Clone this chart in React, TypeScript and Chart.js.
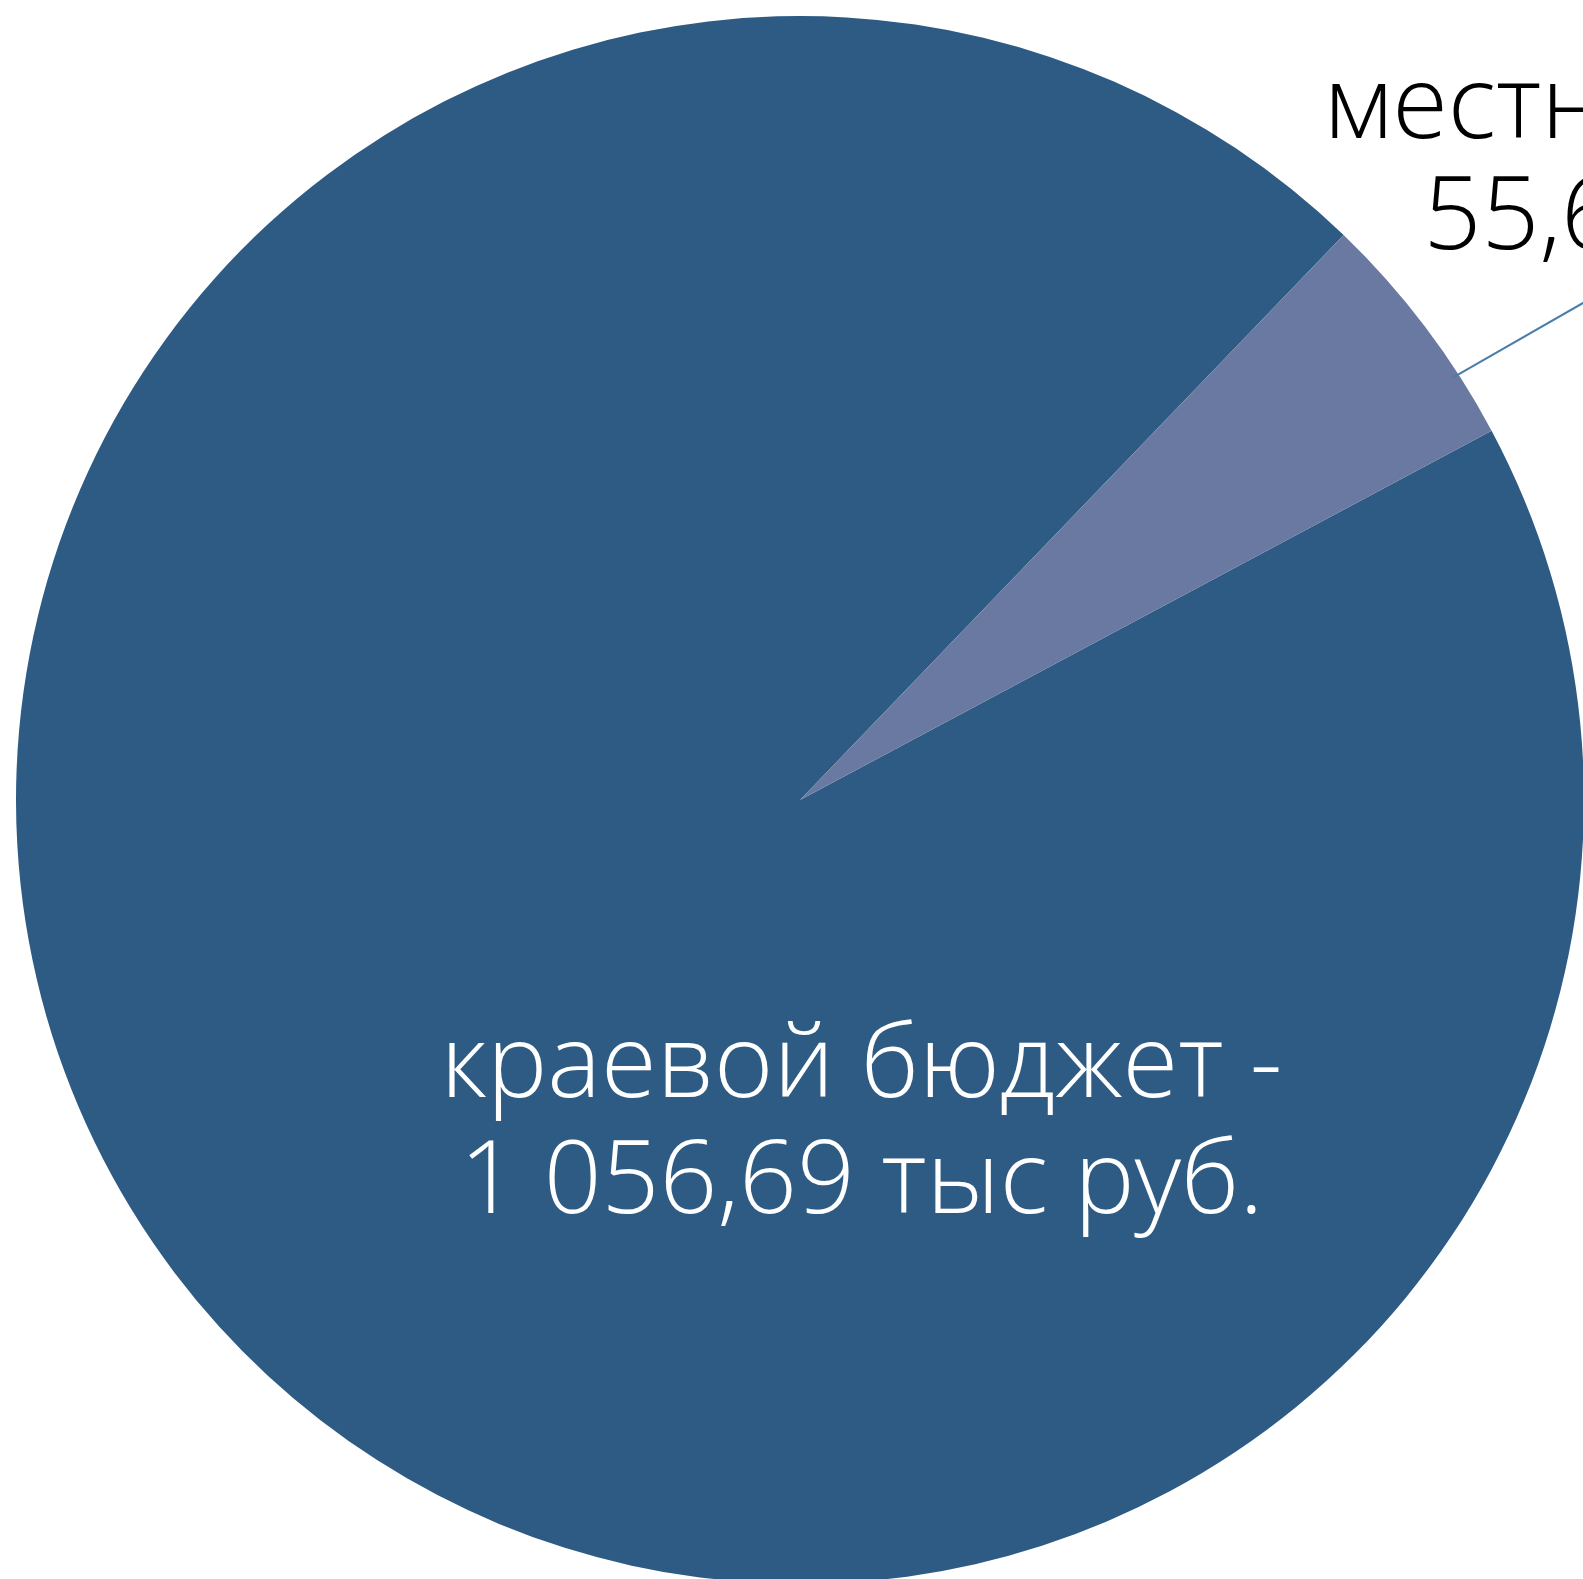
import React, { useEffect, useRef } from "react";
import { Chart, registerables } from "chart.js";

Chart.register(...registerables);

const categories = ["краевой бюджет", "местный бюджет"];
const values = [1056.69, 55.62];
const sliceColors = ["#2E5B84", "#6A79A1"];
const unitLabel = "тыс руб.";

function formatValue(v: number): string {
  const [intPart, frac] = v.toFixed(2).split(".");
  const grouped = intPart.replace(/\B(?=(\d{3})+(?!\d))/g, " ");
  return grouped + "," + frac;
}

const FONT = "300 101.4px 'Open Sans'";

const labelPlugin = {
  id: "sliceLabels",
  afterDraw(chart: any) {
    const meta = chart.getDatasetMeta(0);
    const arcs = meta.data;
    if (!arcs || arcs.length < 2) return;
    const ctx = chart.ctx;
    const a0 = arcs[0].getProps(["x", "y", "outerRadius"], true);
    const R = a0.outerRadius;
    const cx = a0.x;
    const cy = a0.y;
    ctx.save();
    ctx.font = FONT;
    ctx.textBaseline = "alphabetic";
    ctx.textAlign = "center";

    // Regional budget label (inside big slice)
    const l1 = categories[0] + " -";
    const l2 = formatValue(values[0]) + " " + unitLabel;
    ctx.fillStyle = "#FFFFFF";
    const bx = cx + 0.0784 * R;
    const by = cy + 0.3788 * R;
    ctx.fillText(l1, bx, by);
    ctx.fillText(l2, bx, by + 116);

    // Local budget label (outside, with leader line)
    const t1 = categories[1] + " -";
    const t2 = formatValue(values[1]) + " " + unitLabel;
    const w1 = ctx.measureText(t1).width;
    const tx = cx + 0.668 * R + w1 / 2;
    const ty = cy - 0.844 * R;
    ctx.fillStyle = "#000000";
    ctx.fillText(t1, tx, ty);
    ctx.fillText(t2, tx, ty + 111);

    // leader line
    const ang = (57.1 * Math.PI) / 180;
    const sx = cx + Math.sin(ang) * (R - 7);
    const sy = cy - Math.cos(ang) * (R - 7);
    ctx.strokeStyle = "#4A7DAA";
    ctx.lineWidth = 2;
    ctx.beginPath();
    ctx.moveTo(sx, sy);
    ctx.lineTo(sx + 300, sy - 300 * 0.574);
    ctx.stroke();
    ctx.restore();
  },
};

export default function App() {
  const ref = useRef<HTMLCanvasElement | null>(null);
  useEffect(() => {
    document.body.style.margin = "0";
    if (!ref.current) return;
    const chart = new Chart(ref.current, {
      type: "pie",
      data: {
        labels: categories,
        datasets: [
          {
            data: values,
            backgroundColor: sliceColors,
            borderWidth: 0,
          },
        ],
      },
      options: {
        animation: false,
        responsive: false,
        rotation: 61.9,
        layout: { padding: 16 },
        plugins: {
          legend: { display: false },
          tooltip: { enabled: false },
        },
      },
      plugins: [labelPlugin],
    });
    return () => chart.destroy();
  }, []);
  return (
    <div
      style={{
        position: "absolute",
        left: 0,
        top: 0,
        width: 1583,
        height: 1579,
        overflow: "hidden",
        background: "#FFFFFF",
      }}
    >
      <canvas ref={ref} width={1600} height={1600} style={{ display: "block" }} />
    </div>
  );
}
